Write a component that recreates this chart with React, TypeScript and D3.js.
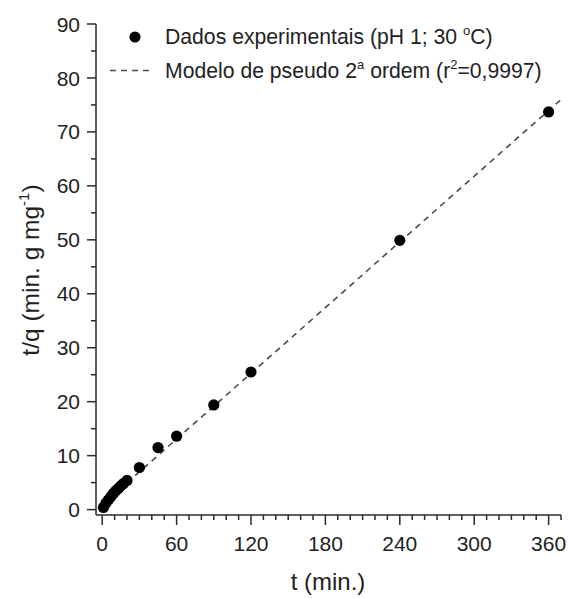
import React from "react";
import * as d3 from "d3";

const tData = [1, 3, 5, 7, 9, 11, 13, 15, 17, 20, 30, 45, 60, 90, 120, 240, 360];
const tqData = [0.4, 1.2, 1.8, 2.4, 3.0, 3.5, 3.9, 4.4, 4.8, 5.4, 7.8, 11.5, 13.6, 19.4, 25.5, 49.9, 73.7];
const modelT = [0, 370];
const modelTQ = [0.9, 76.0];
const xMajorTicks = [0, 60, 120, 180, 240, 300, 360];
const yMajorTicks = [0, 10, 20, 30, 40, 50, 60, 70, 80, 90];

const W = 569;
const H = 598;
const FONT = "'Liberation Sans', Arial, Helvetica, sans-serif";
const AX = "#2a2a2a";

export default function App() {
  const x = d3.scaleLinear().domain([-5, 370]).range([96, 561]);
  const y = d3.scaleLinear().domain([-1, 90]).range([515, 24]);
  const xMinor = d3.range(10, 371, 10).filter((v) => v % 60 !== 0);
  const yMinor = d3.range(5, 90, 10);
  const line = d3
    .line<number>()
    .x((_, i) => x(modelT[i]))
    .y((d) => y(d));

  return (
    <svg
      width={W}
      height={H}
      style={{ position: "absolute", left: 0, top: 0, background: "#fff" }}
      fontFamily={FONT}
    >
      <rect width={W} height={H} fill="#fff" />
      {/* model line */}
      <path
        d={line(modelTQ) || ""}
        fill="none"
        stroke="#4a4a4a"
        strokeWidth={1.6}
        strokeDasharray="6,5"
      />
      {/* points */}
      {tData.map((t, i) => (
        <circle key={i} cx={x(t)} cy={y(tqData[i])} r={5.6} fill="#000" />
      ))}
      {/* axes */}
      <line x1={x.range()[0]} x2={x.range()[0]} y1={y.range()[1]} y2={y.range()[0]} stroke={AX} strokeWidth={1.5} />
      <line x1={x.range()[0]} x2={x.range()[1]} y1={y.range()[0]} y2={y.range()[0]} stroke={AX} strokeWidth={1.5} />
      {yMajorTicks.map((v) => (
        <g key={"ym" + v}>
          <line x1={87} x2={96} y1={y(v)} y2={y(v)} stroke={AX} strokeWidth={1.5} />
          <text x={80} y={y(v)} dy="0.36em" textAnchor="end" fontSize={21} fill="#222">
            {v}
          </text>
        </g>
      ))}
      {yMinor.map((v) => (
        <line key={"yn" + v} x1={91} x2={96} y1={y(v)} y2={y(v)} stroke={AX} strokeWidth={1.5} />
      ))}
      {xMajorTicks.map((v) => (
        <g key={"xm" + v}>
          <line x1={x(v)} x2={x(v)} y1={515} y2={525} stroke={AX} strokeWidth={1.5} />
          <text x={x(v)} y={551} textAnchor="middle" fontSize={21} fill="#222">
            {v}
          </text>
        </g>
      ))}
      {xMinor.map((v) => (
        <line key={"xn" + v} x1={x(v)} x2={x(v)} y1={515} y2={520} stroke={AX} strokeWidth={1.5} />
      ))}
      {/* axis titles */}
      <text x={328} y={590} textAnchor="middle" fontSize={24} fill="#222">
        t (min.)
      </text>
      <text transform="translate(39,270) rotate(-90)" textAnchor="middle" fontSize={24.5} fill="#222">
        t/q (min. g mg
        <tspan fontSize={15} dy={-10}>-1</tspan>
        <tspan dy={10}>)</tspan>
      </text>
      {/* legend */}
      <circle cx={135} cy={37} r={5.6} fill="#000" />
      <text x={165} y={44} fontSize={21.2} fill="#222">
        Dados experimentais (pH 1; 30 <tspan fontSize={13} dy={-9}>o</tspan>
        <tspan dy={9}>C)</tspan>
      </text>
      <line x1={110} x2={153} y1={70.5} y2={70.5} stroke="#4a4a4a" strokeWidth={1.4} strokeDasharray="6,5" />
      <text x={165} y={78} fontSize={21.2} fill="#222">
        Modelo de pseudo 2<tspan fontSize={13} dy={-9}>a</tspan>
        <tspan dy={9}> ordem (r</tspan>
        <tspan fontSize={13} dy={-9}>2</tspan>
        <tspan dy={9}>=0,9997)</tspan>
      </text>
    </svg>
  );
}
